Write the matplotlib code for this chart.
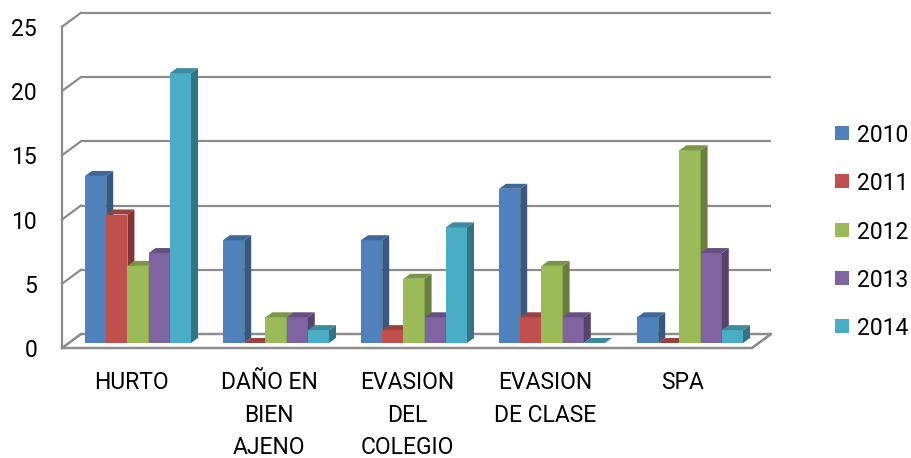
import numpy as np
import matplotlib
matplotlib.use("Agg")
import matplotlib.pyplot as plt
from matplotlib.patches import Polygon, Rectangle

# data
categories = ["HURTO", "DAÑO EN\nBIEN\nAJENO", "EVASION\nDEL\nCOLEGIO", "EVASION\nDE CLASE", "SPA"]
years = ["2010", "2011", "2012", "2013", "2014"]
v2010 = [13, 8, 8, 12, 2]
v2011 = [10, 0, 1, 2, 0]
v2012 = [6, 2, 5, 6, 15]
v2013 = [7, 2, 2, 2, 7]
v2014 = [21, 1, 9, 0, 1]
series = [v2010, v2011, v2012, v2013, v2014]
yticks = [0, 5, 10, 15, 20, 25]

colors = ['#4F81BD', '#C0504D', '#9BBB59', '#8064A2', '#4BACC6']

W, H = 911, 458
plt.rcParams['font.family'] = ['Roboto', 'DejaVu Sans']
FS = 16.5

# pixel scale of the front plane of the bars
px_x = 138.0      # pixels per category
px_y = 12.85      # pixels per unit value
x0_px, y0_px = 138.0, 343.0

def shade(c, f):
    r, g, b = matplotlib.colors.to_rgb(c)
    return (r * f, g * f, b * f)

fig = plt.figure(figsize=(W / 100, H / 100), dpi=100)
ax = fig.add_axes([0, 0, 1, 1])
ax.set_xlim(-x0_px / px_x, (W - x0_px) / px_x)
ax.set_ylim((y0_px - H) / px_y, y0_px / px_y)
ax.set_axis_off()

# depth offsets (data units)
bdx, bdy = 7 / px_x, 5 / px_y          # bar depth
wdx, wdy = 12 / px_x, 9 / px_y         # back wall
fdx, fdy = -7 / px_x, -5 / px_y        # front edge
n = len(categories)
left, right = -0.5, n - 0.5

grid_c = '#8c8c8c'
lw = 1.6

# floor
floor = Polygon([(left + fdx, fdy), (right + fdx, fdy), (right + wdx, wdy), (left + wdx, wdy)],
                closed=True, facecolor='white', edgecolor=grid_c, lw=lw, zorder=1)
ax.add_patch(floor)

# back wall gridlines + left wall diagonals
for v in yticks:
    ax.plot([left + wdx, right + wdx], [v + wdy, v + wdy], color=grid_c, lw=lw, zorder=1,
            solid_capstyle='butt')
    ax.plot([left + fdx, left + wdx], [v + fdy, v + wdy], color=grid_c, lw=lw, zorder=1)
    ax.text(left + fdx - 25 / px_x, v + fdy, str(v), ha='right', va='center_baseline',
            fontsize=FS, color='black')
ax.plot([left + fdx, left + fdx], [fdy, yticks[-1] + fdy], color=grid_c, lw=lw, zorder=1)

# bars with side and top faces
w = 21.2 / px_x
x = np.arange(n)
z = 2
for i in range(n):
    for j, vals in enumerate(series):
        xc = x[i] + (j - 2) * w
        v = vals[i]
        c = colors[j]
        ax.bar(xc, v, width=w, color=c, edgecolor='none', zorder=z)
        xr = xc + w / 2
        xl = xc - w / 2
        side = Polygon([(xr, 0), (xr + bdx, bdy), (xr + bdx, v + bdy), (xr, v)],
                       closed=True, facecolor=shade(c, 0.68), edgecolor='none', zorder=z)
        top = Polygon([(xl, v), (xr, v), (xr + bdx, v + bdy), (xl + bdx, v + bdy)],
                      closed=True, facecolor=shade(c, 0.8), edgecolor='none', zorder=z)
        ax.add_patch(side)
        ax.add_patch(top)
        z += 1

# front edge of the floor drawn over bar bottoms
ax.plot([left + fdx, right + fdx], [fdy, fdy], color=grid_c, lw=lw, zorder=z)
ax.plot([right + fdx, right + wdx], [fdy, wdy], color=grid_c, lw=lw, zorder=z)

# category labels
for i, lab in enumerate(categories):
    ax.text(x[i] + fdx, (y0_px - 371) / px_y, lab, ha='center', va='top',
            multialignment='center', fontsize=FS, linespacing=1.53, color='black')

# legend
for j, yr in enumerate(years):
    yc = 133 + 48.3 * j
    fig.patches.append(Rectangle((835 / W, 1 - (yc + 7) / H), 14 / W, 14 / H,
                                 transform=fig.transFigure, facecolor=colors[j],
                                 edgecolor='none'))
    fig.text(857 / W, 1 - yc / H, yr, ha='left', va='center_baseline', fontsize=FS)

fig.savefig("out.png", dpi=100)
